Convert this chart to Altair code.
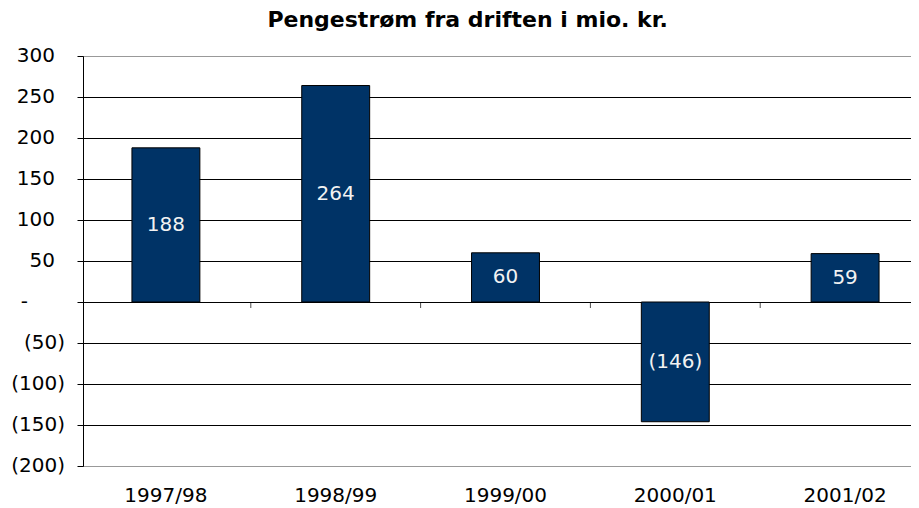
import altair as alt
import pandas as pd

years = ["1997/98", "1998/99", "1999/00", "2000/01", "2001/02"]
values = [188, 264, 60, -146, 59]
bar_labels = ["188", "264", "60", "(146)", "59"]
y_ticks = [-200, -150, -100, -50, 0, 50, 100, 150, 200, 250, 300]
y_tick_labels = ["(200)", "(150)", "(100)", "(50)", "-", "50", "100", "150", "200", "250", "300"]

df = pd.DataFrame({"year": years, "value": values, "label": bar_labels})
ticks_df = pd.DataFrame({"tick": y_ticks, "tlabel": y_tick_labels})

FONT = "DejaVu Sans"

x_scale = alt.Scale(domain=years, range=[-2, 847], paddingInner=0, paddingOuter=0)
y_scale = alt.Scale(domain=[-200, 300], nice=False, zero=False)

grid_color = {
    "condition": {"test": "datum.value === 300 || datum.value === -200", "value": "#999999"},
    "value": "black",
}

base = alt.Chart(df)

bars = base.mark_bar(
    color="#003366", stroke="black", strokeWidth=1, width=alt.RelativeBandSize(0.4)
).encode(
    x=alt.X(
        "year:N",
        scale=x_scale,
        sort=years,
        axis=alt.Axis(
            title=None, orient="bottom", labelFont=FONT, labelFontSize=20,
            labelColor="black", labelPadding=19, ticks=False,
            domainColor="#999999", labelAngle=0, grid=False,
        ),
    ),
    y=alt.Y(
        "value:Q",
        scale=y_scale,
        axis=alt.Axis(
            title=None, values=y_ticks, labels=False, grid=True,
            gridColor=grid_color, gridOpacity=1, gridWidth=1,
            domainColor="black", tickColor="black", tickSize=6,
        ),
    ),
)

text = base.transform_calculate(mid="datum.value / 2").mark_text(
    font=FONT, fontSize=20, color="#f2f2f2", baseline="middle", align="center"
).encode(
    x=alt.X("year:N", sort=years, title=None),
    y=alt.Y("mid:Q", title=None),
    text="label:N",
)

ticks = base.transform_filter(alt.datum.year != years[0]).mark_tick(
    orient="vertical", size=6, thickness=1, color="black", yOffset=3
).encode(
    x=alt.X("year:N", sort=years, bandPosition=0, title=None),
    y=alt.datum(0),
)


def ylabels(test, dx):
    return alt.Chart(ticks_df).transform_filter(test).mark_text(
        font=FONT, fontSize=20, color="black", align="right", baseline="middle", dx=dx
    ).encode(
        x=alt.value(0),
        y=alt.Y("tick:Q", title=None),
        text="tlabel:N",
    )


neg_labels = ylabels("datum.tick < 0", -18)
zero_labels = ylabels("datum.tick === 0", -55)
pos_labels = ylabels("datum.tick > 0", -28)

chart = alt.layer(bars, ticks, text, neg_labels, zero_labels, pos_labels).properties(
    width=828,
    height=410,
    autosize=alt.AutoSizeParams(type="none"),
    padding={"left": 75, "top": 48, "right": 0, "bottom": 44},
    title=alt.Title(
        "Pengestrøm fra driften i mio. kr.", font=FONT, fontSize=22,
        fontWeight="bold", anchor="middle", frame="bounds", color="black",
        dy=-10, dx=-4,
    ),
    background="white",
).configure_view(stroke=None)

chart.save("out.html", embed_options={"renderer": "svg", "actions": False})
